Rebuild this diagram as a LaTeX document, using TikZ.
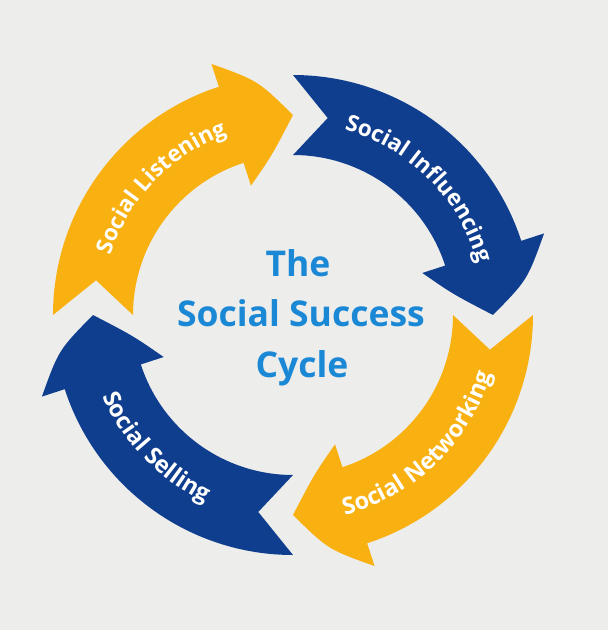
\documentclass[tikz,border=0pt]{standalone}
\usepackage{fontspec}
\setmainfont{Open Sans}
\usetikzlibrary{decorations.text}
\definecolor{bgcol}{RGB}{237,237,236}
\definecolor{ylw}{RGB}{248,177,17}
\definecolor{dblue}{RGB}{16,62,143}
\definecolor{tblue}{RGB}{26,136,213}
\newcommand\ringarrow[2]{%
  \fill[#2] (#1:240) arc[start angle=#1, end angle=#1-72, radius=240pt]
    -- ({#1-72}:264) .. controls ({#1-81.5}:237) .. ({#1-90}:200)
    .. controls ({#1-82.5}:161) .. ({#1-72}:136)
    -- ({#1-72}:160) arc[start angle=#1-72, end angle=#1, radius=160pt]
    -- ({#1-10}:200) -- cycle;
}
\newcommand\arrowfnt{\fontsize{22.5}{26}\selectfont\bfseries\color{white}}
\newcommand\arrowfntb{\fontsize{23.5}{27}\selectfont\bfseries\color{white}}
\begin{document}
\begin{tikzpicture}[x=1pt,y=1pt,
  titletext/.style={font=\fontsize{35.5}{40}\selectfont\bfseries, text=tblue, anchor=base, inner sep=0pt},
  arclabel/.style={decorate, decoration={text along path, text align=center, text={|\arrowfnt|#1}}},
  arclabelb/.style={decorate, decoration={text along path, text align=center, text={|\arrowfntb|#1}}}]
\useasboundingbox (-293,-315) rectangle (315,315);
\fill[bgcol] (-293,-315) rectangle (315,315);
\ringarrow{180}{ylw}
\ringarrow{90}{dblue}
\ringarrow{0}{ylw}
\ringarrow{270}{dblue}
\path[arclabel={Social Listening}] (176:192) arc[start angle=176, end angle=96, radius=192pt];
\path[arclabel={Social Influencing}] (85:192) arc[start angle=85, end angle=5, radius=192pt];
\path[arclabelb={Social Networking}] (274:207) arc[start angle=274, end angle=354, radius=207pt];
\path[arclabelb={Social Selling}] (184:207) arc[start angle=184, end angle=264, radius=207pt];
\node[titletext] (title1) at (5,39) {The};
\node[titletext] (title2) at (8,-11) {Social Success};
\node[titletext] (title3) at (9,-62) {Cycle};
\end{tikzpicture}
\end{document}
